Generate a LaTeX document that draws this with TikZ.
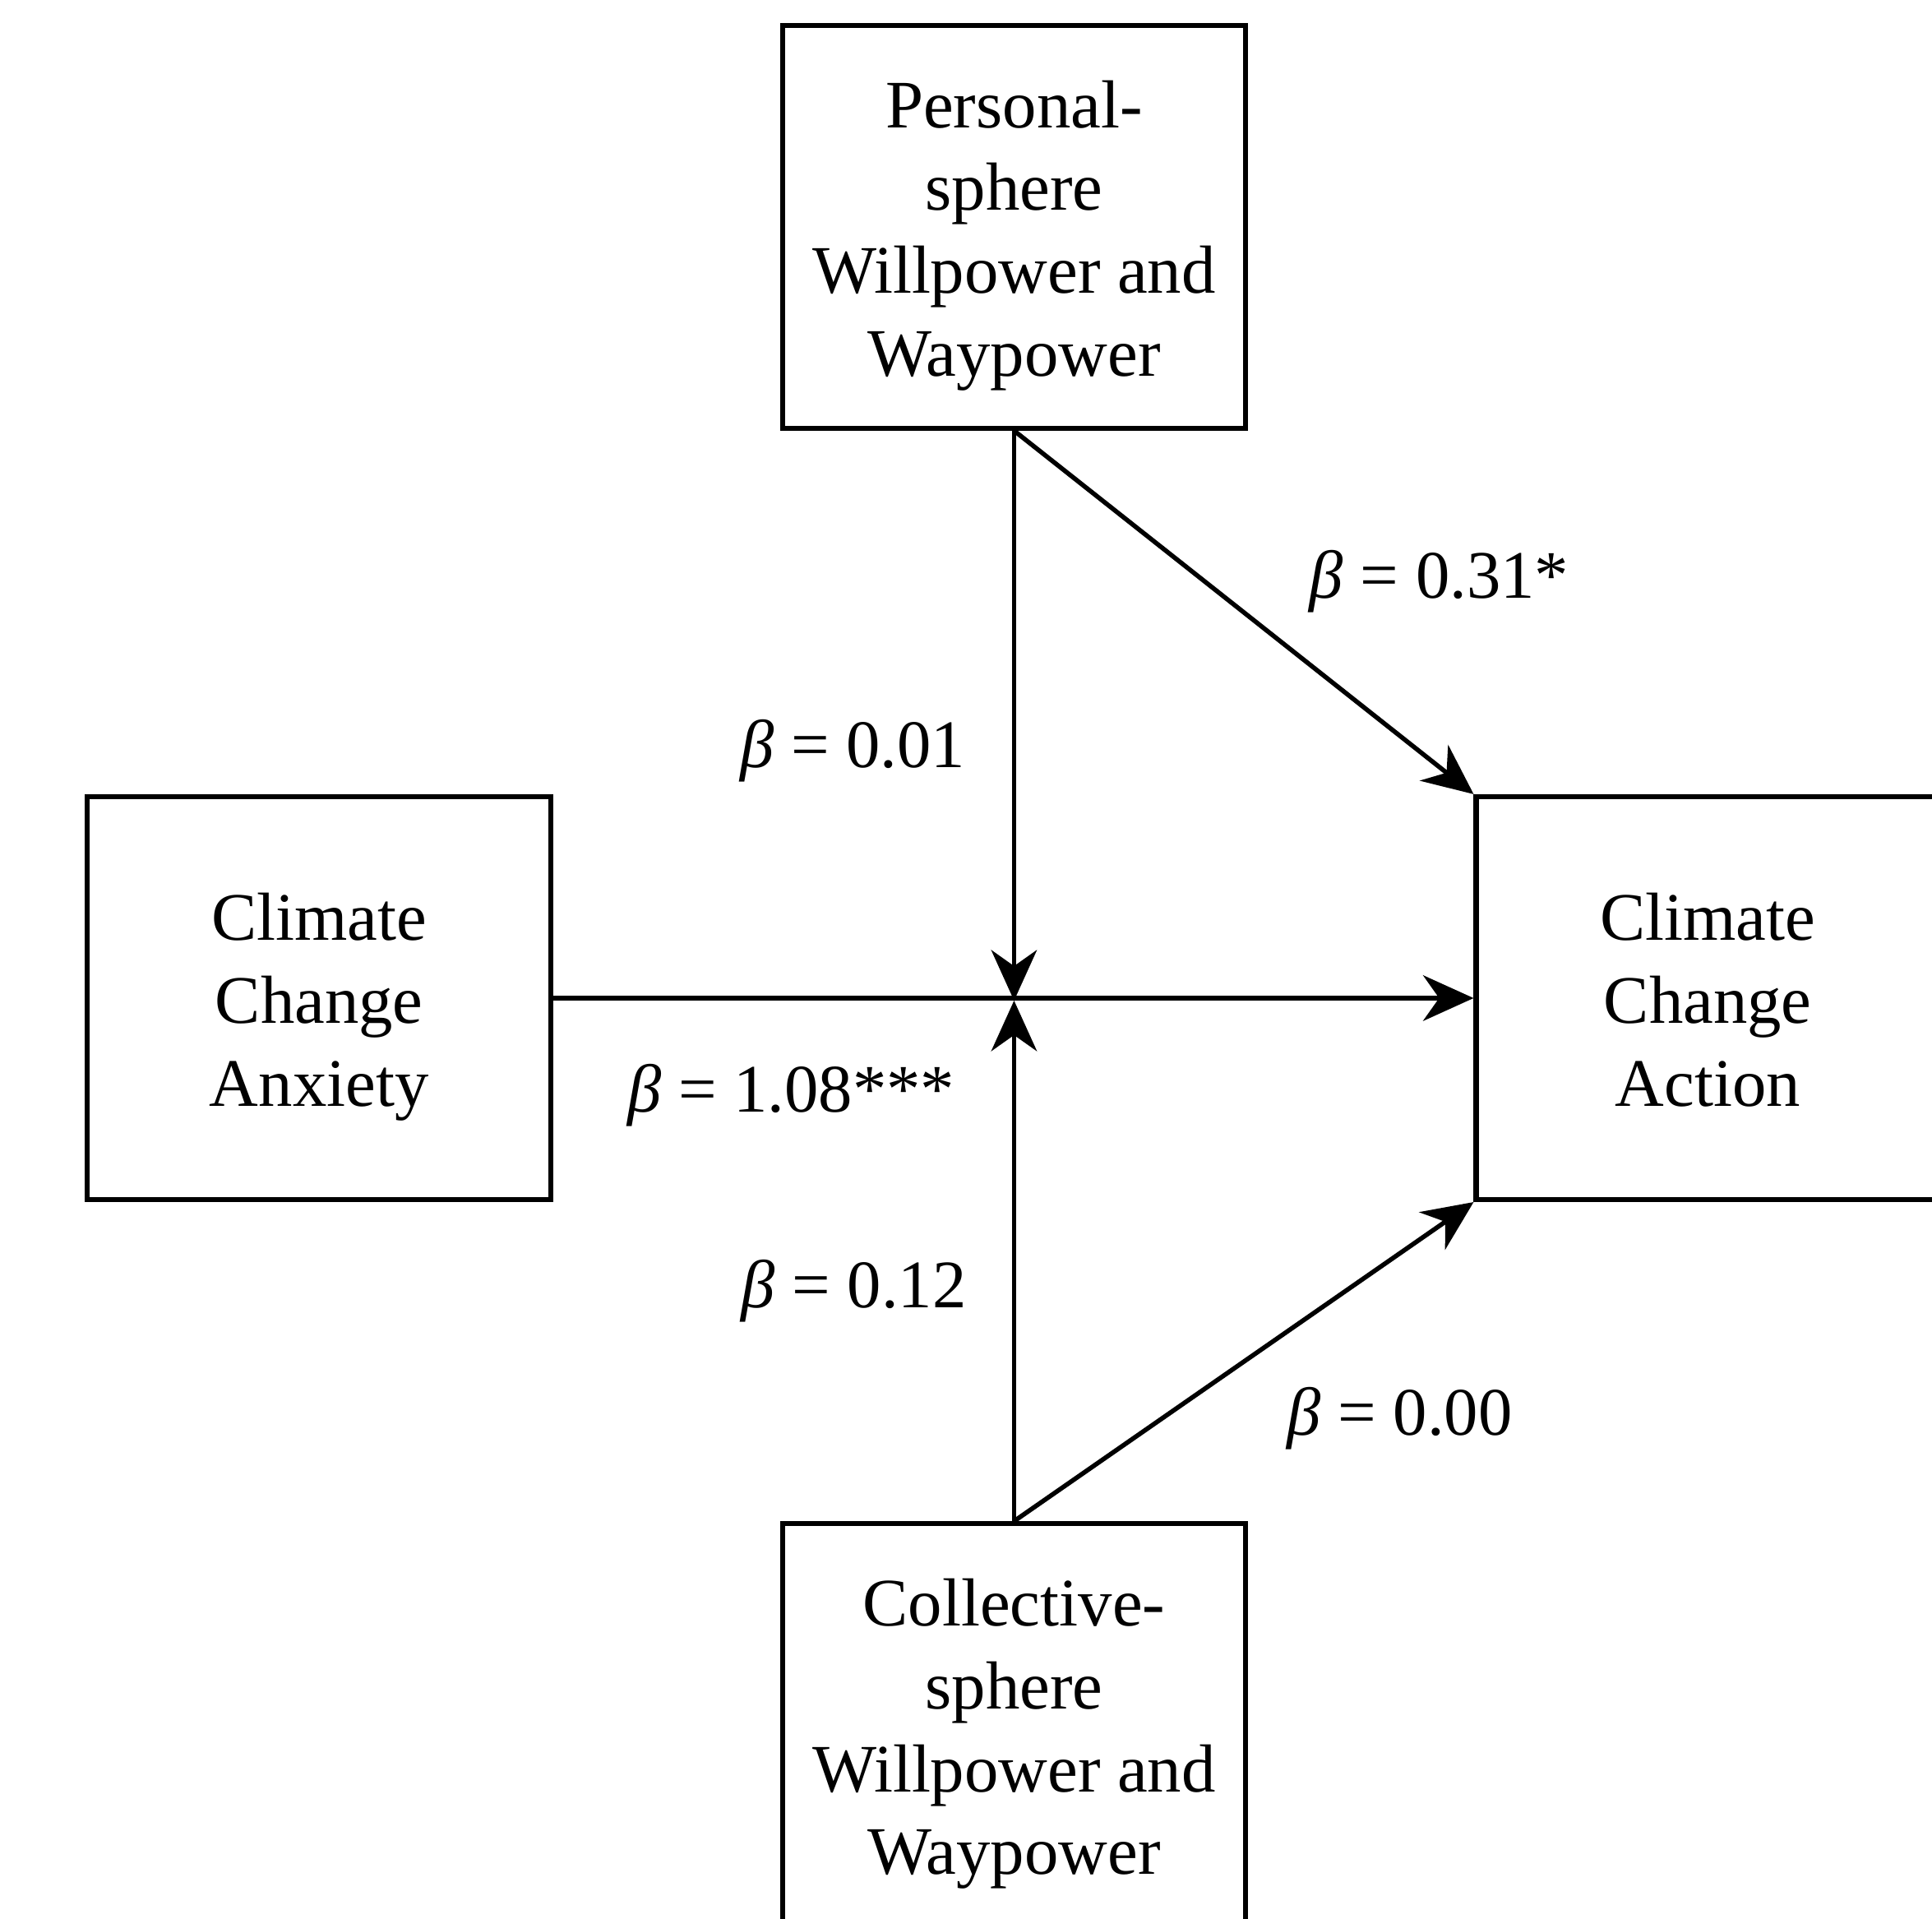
\documentclass[tikz,border=0pt]{standalone}
\usepackage{fontspec}
\setmainfont{Liberation Serif}
\usetikzlibrary{arrows.meta}
\newcommand{\boxtext}[1]{\rule{0pt}{17.3pt}#1\strut}

\begin{document}
\begin{tikzpicture}[font=\fontsize{15.7}{19.1}\selectfont,
  box/.style={draw, line width=1.15pt, minimum width=3.76cm, minimum height=3.27cm, align=center, inner sep=0pt},
  arr/.style={line width=1.05pt, -{Stealth[length=0.41cm, width=0.37cm, inset=0.13cm]}}]
\useasboundingbox (0,0) rectangle (15.68,-15.57);
\node[box] (pw) at (8.23,-1.84) {\boxtext{Personal-\\sphere\\Willpower and\\Waypower}};
\node[box] (anx) at (2.59,-8.10) {\boxtext{Climate\\Change\\Anxiety}};
\node[box] (act) at (13.86,-8.10) {\boxtext{Climate\\Change\\Action}};
\node[box] (cw) at (8.23,-14.0) {\boxtext{Collective-\\sphere\\Willpower and\\Waypower}};
\coordinate (mid) at (8.23,-8.12);
% paths
\draw[arr](anx.east)--(act.west);
\draw[arr](pw.south)--(mid);
\draw[arr](cw.north)--(mid);
\draw[arr](pw.south)--(act.north west);
\draw[arr](cw.north)--(act.south west);
% coefficients
\foreach \x/\y/\n/\b in {11.68/-4.72/bpa/0.31*, 6.92/-6.09/bpm/0.01, 6.42/-8.89/bxa/1.08***, 6.93/-10.48/bcm/0.12, 11.36/-11.51/bca/0.00}{
\node (\n) at (\x,\y) {\textit{β} = \b};}
\end{tikzpicture}
\end{document}
